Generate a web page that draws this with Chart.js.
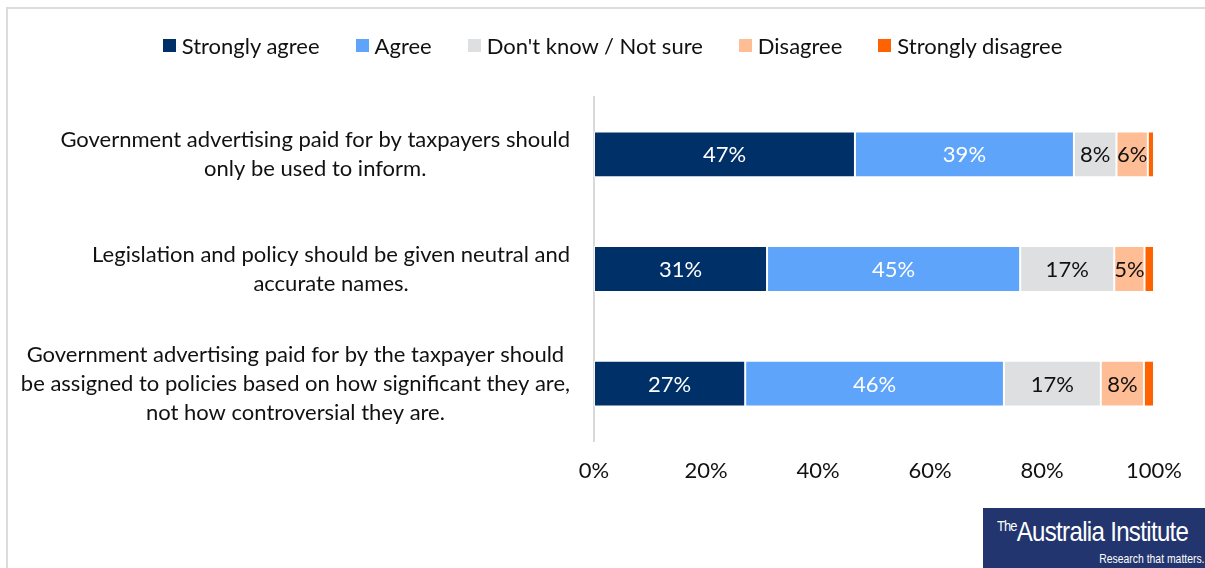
<!DOCTYPE html>
<html>
<head>
<meta charset="utf-8">
<script src="https://cdn.jsdelivr.net/npm/chart.js@4.4.1/dist/chart.umd.min.js"></script>
<style>
  html, body { margin: 0; padding: 0; background: #fff; }
  #page { position: relative; width: 1205px; height: 568px; overflow: hidden; font-family: Lato, sans-serif; }
  #frame { position: absolute; left: 6px; top: 7px; right: 0; bottom: 0; border-left: 2px solid #dcdcdc; border-top: 2px solid #dcdcdc; }
  #chart { position: absolute; left: 0; top: 0; }
  #legend { position: absolute; left: 20px; top: 32px; width: 1185px; display: flex; justify-content: center; gap: 36px; font-size: 22px; color: #111; }
  #legend .item { display: flex; align-items: center; white-space: nowrap; }
  #legend .box { width: 13px; height: 13px; margin-right: 6px; }
  #logo { position: absolute; left: 983px; top: 508px; width: 222px; height: 60px; background: #22356e; color: #fff; font-family: "Liberation Sans", sans-serif; white-space: nowrap; }
  #logo .name { position: absolute; left: 14px; top: 8px; font-size: 28px; letter-spacing: -0.8px; transform: scaleX(0.86); transform-origin: left top; }
  #logo .name sup { font-size: 15px; vertical-align: 10px; letter-spacing: -1px; }
  #logo .tag { position: absolute; right: 1px; bottom: 2px; font-size: 13px; transform: scaleX(0.8); transform-origin: right bottom; }
</style>
</head>
<body>
<div id="page">
  <div id="frame"></div>
  <canvas id="chart" width="1205" height="568"></canvas>
  <div id="legend"></div>
  <div id="logo"><div class="name"><sup>The</sup>Australia Institute</div><div class="tag">Research that matters.</div></div>
</div>
<script>
const categories = [
  ['Government advertising paid for by taxpayers should', 'only be used to inform.'],
  ['Legislation and policy should be given neutral and', 'accurate names.'],
  ['Government advertising paid for by the taxpayer should', 'be assigned to policies based on how significant they are,', 'not how controversial they are.']
];
const seriesNames = ['Strongly agree', 'Agree', "Don't know / Not sure", 'Disagree', 'Strongly disagree'];
const stronglyAgree = [46.6, 30.9, 27.0];
const agree = [39.1, 45.2, 46.2];
const dontKnow = [7.6, 16.8, 17.3];
const disagree = [5.6, 5.4, 7.7];
const stronglyDisagree = [1.1, 1.7, 1.8];
const xTicks = [0, 20, 40, 60, 80, 100];

const colors = ['#003068', '#5ea4fa', '#dedfe1', '#ffbd96', '#ff6200'];
const labelColors = ['#fff', '#fff', '#111', '#111', '#111'];
const FONT = '22px Lato, sans-serif';

// legend
const legendEl = document.getElementById('legend');
seriesNames.forEach((name, i) => {
  const item = document.createElement('div');
  item.className = 'item';
  item.innerHTML = '<span class="box" style="background:' + colors[i] + '"></span>' + name;
  legendEl.appendChild(item);
});

// statement text, each block centred on itself and right-aligned to the axis
const categoryLabels = {
  id: 'categoryLabels',
  afterDraw(chart) {
    const ctx = chart.ctx;
    const y = chart.scales.y;
    ctx.save();
    ctx.font = FONT;
    ctx.fillStyle = '#111';
    ctx.textAlign = 'center';
    ctx.textBaseline = 'middle';
    categories.forEach((lines, i) => {
      const cy = y.getPixelForValue(i);
      const w = Math.max(...lines.map(l => ctx.measureText(l).width));
      const cx = y.right - 24 - w / 2;
      lines.forEach((l, j) => ctx.fillText(l, cx, cy + (j - (lines.length - 1) / 2) * 29));
    });
    ctx.restore();
  }
};

// percentage labels inside the segments
const barLabels = {
  id: 'barLabels',
  afterDatasetsDraw(chart) {
    const ctx = chart.ctx;
    ctx.save();
    ctx.font = FONT;
    ctx.textAlign = 'center';
    ctx.textBaseline = 'middle';
    chart.data.datasets.forEach((ds, di) => {
      chart.getDatasetMeta(di).data.forEach((bar, i) => {
        const v = ds.data[i];
        if (v < 3) return;
        ctx.fillStyle = labelColors[di];
        ctx.fillText(Math.round(v) + '%', (bar.x + bar.base) / 2, bar.y + 1);
      });
    });
    ctx.restore();
  }
};

const seriesData = [stronglyAgree, agree, dontKnow, disagree, stronglyDisagree];

new Chart(document.getElementById('chart'), {
  type: 'bar',
  data: {
    labels: categories.map(c => c.join(' ')),
    datasets: seriesData.map((d, i) => ({
      label: seriesNames[i],
      data: d,
      backgroundColor: colors[i],
      borderColor: 'rgba(255,255,255,0.7)',
      borderWidth: 1,
      borderSkipped: false,
      barPercentage: 0.4,
      categoryPercentage: 1
    }))
  },
  options: {
    indexAxis: 'y',
    responsive: false,
    animation: false,
    layout: { padding: { top: 97, right: 51, left: 0, bottom: 0 } },
    plugins: {
      legend: { display: false },
      tooltip: { enabled: false }
    },
    scales: {
      x: {
        stacked: true,
        min: 0,
        max: 100,
        afterBuildTicks: axis => { axis.ticks = xTicks.map(v => ({ value: v })); },
        afterFit: axis => { axis.height = 127; },
        grid: { display: false, drawTicks: false },
        border: { display: false },
        ticks: { padding: 17, color: '#111', font: { family: 'Lato', size: 22 }, callback: v => v + '%' }
      },
      y: {
        stacked: true,
        offset: true,
        afterFit: axis => { axis.width = 594; },
        grid: { display: false, drawTicks: false },
        border: { display: true, color: '#d9d9d9', width: 2 },
        ticks: { display: false }
      }
    }
  },
  plugins: [categoryLabels, barLabels]
});
</script>
</body>
</html>
